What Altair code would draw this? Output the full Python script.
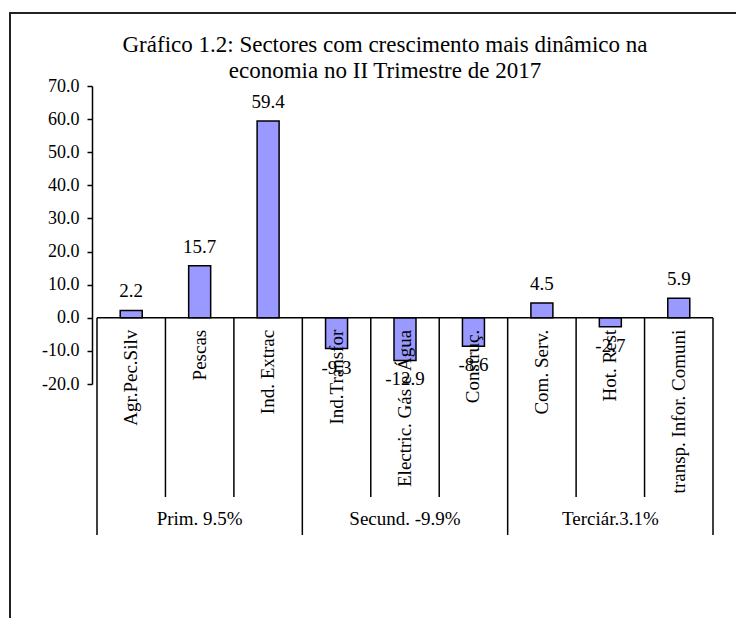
import altair as alt
import pandas as pd

categories = ["Agr.Pec.Silv", "Pescas", "Ind. Extrac", "Ind.Transfor",
              "Electric. Gás e Água", "Construç.", "Com. Serv.", "Hot. Rest",
              "transp. Infor. Comuni"]
values = [2.2, 15.7, 59.4, -9.3, -12.9, -8.6, 4.5, -2.7, 5.9]
groups = ["Prim. 9.5%", "Secund. -9.9%", "Terciár.3.1%"]
group_size = 3
y_ticks = [70, 60, 50, 40, 30, 20, 10, 0, -10, -20]
title_lines = ["Gráfico  1.2: Sectores com crescimento mais dinâmico na",
               "economia no II Trimestre de 2017"]

FONT = "Liberation Serif"
W, H = 626, 298
ZERO_PX = H * 70 / 90
FS = 19

df = pd.DataFrame({
    "cat": categories,
    "val": values,
    "pos": [i + 0.5 for i in range(len(categories))],
})
df["lab"] = df["val"].map(lambda v: f"{v:.1f}")

bounds = pd.DataFrame({"b": list(range(len(categories) + 1))})
bounds["long"] = bounds["b"] % group_size == 0

gdf = pd.DataFrame({"g": groups,
                    "pos": [i * group_size + group_size / 2 for i in range(len(groups))]})

xscale = alt.Scale(domain=[0, len(categories)], nice=False)
x = alt.X("pos:Q", scale=xscale, axis=None)
yscale = alt.Scale(domain=[-20, 70], nice=False, zero=False)
yaxis = alt.Axis(values=y_ticks, grid=False, labelOverlap=False, title=None,
                 labelExpr="replace(format(datum.value, '.1f'), '\u2212', '-')",
                 domainColor="black", domainWidth=1.5,
                 tickColor="black", tickWidth=1.5, tickSize=5,
                 labelFont=FONT, labelFontSize=18, labelColor="black",
                 labelPadding=8)
yzero = alt.YDatum(0, scale=yscale, axis=yaxis)

base = alt.Chart(df)

bars = base.mark_bar(size=22, color="#9999FF", stroke="black", strokeWidth=1.5).encode(
    x=x,
    y=alt.Y("val:Q", scale=yscale, axis=yaxis),
    y2=alt.Y2Datum(0),
)

pos_labels = base.transform_filter("datum.val >= 0").mark_text(
    font=FONT, fontSize=FS, baseline="middle", dy=-19, color="black"
).encode(x=x, y=alt.Y("val:Q", scale=yscale, axis=yaxis), text="lab:N")

neg_labels = base.transform_filter("datum.val < 0").mark_text(
    font=FONT, fontSize=FS, baseline="middle", dy=19, color="black"
).encode(x=x, y=alt.Y("val:Q", scale=yscale, axis=yaxis), text="lab:N")

zero_line = alt.Chart(pd.DataFrame({"a": [0], "b": [len(categories)]})).mark_rule(
    color="black", strokeWidth=1.5
).encode(x=alt.X("a:Q", scale=xscale, axis=None), x2="b:Q", y=yzero)

short_sep = alt.Chart(bounds).transform_filter("!datum.long").mark_rule(
    color="black", strokeWidth=1.5
).encode(x=alt.X("b:Q", scale=xscale, axis=None), y=yzero, y2=alt.value(411))

long_sep = alt.Chart(bounds).transform_filter("datum.long").mark_rule(
    color="black", strokeWidth=1.5
).encode(x=alt.X("b:Q", scale=xscale, axis=None), y=yzero, y2=alt.value(449))

cat_labels = base.mark_text(
    font=FONT, fontSize=FS, angle=270, align="right", baseline="middle", color="black"
).encode(x=x, y=alt.value(ZERO_PX + 12), text="cat:N")

group_labels = alt.Chart(gdf).mark_text(
    font=FONT, fontSize=FS, baseline="middle", color="black"
).encode(x=alt.X("pos:Q", scale=xscale, axis=None), y=alt.value(433), text="g:N")

tdf = pd.DataFrame({"t": title_lines, "ty": [-41, -15]})
title = alt.Chart(tdf).mark_text(
    font=FONT, fontSize=23, baseline="middle", align="center", color="black"
).encode(x=alt.value(293), y=alt.Y("ty:Q", scale=None), text="t:N")

frame_left = alt.Chart(pd.DataFrame({"k": [0]})).mark_rule(color="#222", strokeWidth=2).encode(
    x=alt.value(-82), y=alt.value(-73), y2=alt.value(540))
frame_top = alt.Chart(pd.DataFrame({"k": [0]})).mark_rule(color="#222", strokeWidth=2).encode(
    x=alt.value(-83), x2=alt.value(650), y=alt.value(-73))

chart = alt.layer(
    frame_left, frame_top, title, bars, zero_line, short_sep, long_sep,
    pos_labels, neg_labels, cat_labels, group_labels
).properties(
    width=W, height=H,
    autosize=alt.AutoSizeParams(type="none"),
    padding={"left": 84, "top": 78, "right": 18, "bottom": 234},
    background="white",
).configure_view(stroke=None)

chart.save("out.html", embed_options={"renderer": "svg", "actions": False})
